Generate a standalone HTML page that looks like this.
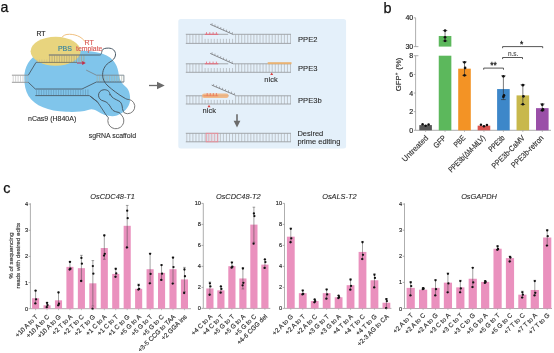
<!DOCTYPE html>
<html><head><meta charset="utf-8"><style>
html,body{margin:0;padding:0;background:#fff;}
body{width:554px;height:353px;overflow:hidden;position:relative;}
svg{position:absolute;left:0;top:0;font-family:'Liberation Sans',sans-serif;filter:blur(0.4px);}
</style></head><body>
<svg width="554" height="353" viewBox="0 0 554 353" style="font-family:'Liberation Sans',sans-serif">
<text x="0.40" y="12.30" text-anchor="start" style="font-size:14.2px;fill:#111;stroke:#111;stroke-width:0.25px;">a</text>
<text x="383.60" y="12.50" text-anchor="start" style="font-size:14.4px;fill:#111;stroke:#111;stroke-width:0.25px;">b</text>
<text x="3.30" y="192.90" text-anchor="start" style="font-size:14.4px;fill:#111;stroke:#111;stroke-width:0.25px;">c</text>
<path d="M24.3,78 C24.3,66 30,58 38,54 C50,49 80,50 92,51.5 C100,52.5 106,54.5 110,57.5 C114.5,61 117.8,66 118.8,74.7 C119.5,80 122,84 126,87 C129.5,90 130.5,96 130,101 C129,108 124,112.5 117,115.5 C112,117 104,116 97,111 C94,109.5 92,108.5 88,110 C82,112 74,112 66,111.8 C48,111 35,106 28.5,96 C25.5,91 24.3,85 24.3,78 Z" fill="#80c5eb" stroke="none" stroke-width="1"/>
<ellipse cx="55.6" cy="51.3" rx="25" ry="14.5" fill="#e8d47e"/>
<path d="M62,37.5 C64,33 74,33.5 80,37 C83,39 85,41 86,43" fill="none" stroke="#f0c080" stroke-width="1.0"/>
<path d="M37.00 59.50V62.20M39.45 59.50V62.20M41.90 59.50V62.20M44.35 59.50V62.20M46.80 59.50V62.20" fill="none" stroke="#c8bb88" stroke-width="0.6"/>
<path d="M49.60 55.40V62.20M52.05 55.40V62.20M54.50 55.40V62.20M56.95 55.40V62.20M59.40 55.40V62.20M61.85 55.40V62.20M64.30 55.40V62.20M66.75 55.40V62.20M69.20 55.40V62.20M71.65 55.40V62.20M74.10 55.40V62.20M76.55 55.40V62.20M79.00 55.40V62.20M81.45 55.40V62.20M83.90 55.40V62.20" fill="none" stroke="#b0a47a" stroke-width="0.7"/>
<path d="M48.9,55 L99.8,55 C100.8,55 101.4,54 101.6,52.5 L102.3,50.1" fill="none" stroke="#4a5a66" stroke-width="0.9"/>
<line x1="48.90" y1="55.00" x2="79.00" y2="55.00" stroke="#a49c82" stroke-width="1.0"/>
<line x1="36.00" y1="62.40" x2="77.00" y2="62.40" stroke="#6a6a60" stroke-width="0.8"/>
<line x1="77.00" y1="63.00" x2="83.00" y2="63.00" stroke="#c0304a" stroke-width="1.0"/>
<path d="M82.2,61.1 L85.8,63.0 L82.2,64.9 Z" fill="#c0304a" stroke="none" stroke-width="1"/>
<path d="M13.20 75.80V81.80M15.65 75.80V81.80M18.10 75.80V81.80M20.55 75.80V81.80M23.00 75.80V81.80M25.45 75.80V81.80M27.90 75.80V81.80" fill="none" stroke="#b8b8b8" stroke-width="0.6"/>
<line x1="11.90" y1="75.20" x2="28.30" y2="75.20" stroke="#8a8a8a" stroke-width="0.85"/>
<line x1="11.90" y1="82.30" x2="28.30" y2="82.30" stroke="#8a8a8a" stroke-width="0.85"/>
<path d="M28.3,75.2 L36,62.4" fill="none" stroke="#4a5a66" stroke-width="0.9"/>
<path d="M28.3,82.3 L35.3,89.0 L82,89.0 L96.4,82 L123.9,82" fill="none" stroke="#4a5a66" stroke-width="0.9"/>
<path d="M36.50 89.40V95.20M38.95 89.40V95.20M41.40 89.40V95.20M43.85 89.40V95.20M46.30 89.40V95.20M48.75 89.40V95.20M51.20 89.40V95.20M53.65 89.40V95.20M56.10 89.40V95.20M58.55 89.40V95.20M61.00 89.40V95.20M63.45 89.40V95.20M65.90 89.40V95.20M68.35 89.40V95.20M70.80 89.40V95.20M73.25 89.40V95.20M75.70 89.40V95.20M78.15 89.40V95.20M80.60 89.40V95.20M83.05 89.40V95.20M85.50 89.40V95.20M87.95 89.40V95.20" fill="none" stroke="#5f8fae" stroke-width="0.6"/>
<path d="M35.3,95.6 L89.3,95.6 L97.6,102 L106.1,115 L108.4,117.8" fill="none" stroke="#4a5a66" stroke-width="0.9"/>
<path d="M97.20 75.60V81.60M99.65 75.60V81.60M102.10 75.60V81.60M104.55 75.60V81.60M107.00 75.60V81.60M109.45 75.60V81.60M111.90 75.60V81.60M114.35 75.60V81.60M116.80 75.60V81.60M119.25 75.60V81.60M121.70 75.60V81.60" fill="none" stroke="#a8b0a0" stroke-width="0.6"/>
<path d="M86.2,70.1 L96.4,75.2 L123.9,75.2 L123.9,82" fill="none" stroke="#7a8890" stroke-width="0.9"/>
<path d="M102.3,50.1 C103,48.8 105,48.1 108.3,48.1 C113,48.1 115.8,51 115.5,55 C115.2,58 113,60.4 110,62 C106,64 102.6,69 102.6,74.7 C102.6,79 104.5,83 108,86 C112,89.5 119,95 124,97.7 C126,99 127.5,99.5 128.8,99.5" fill="none" stroke="#4a5a66" stroke-width="1.0"/>
<path d="M124.3,112.9 C123,111 122.3,109 122.3,107 C122,104 120.5,101.5 118.9,101 C116,99.5 113.5,98.5 112,97 C110.5,95 110,93 110,95.2 C110,91 107,89.7 104.2,89.7 C100.7,89.7 98.5,92.5 98.5,95.2 C98.5,98 100.5,100.3 103,100.8 C106,101.5 108,103 109.9,105.9 C111,108 112.5,110.5 114,111 C116,112 118,112.2 119,112.5 C120,113 120.6,114 121.3,114.9" fill="none" stroke="#4a5a66" stroke-width="1.0"/>
<path d="M90,96 L97.6,102" fill="none" stroke="#4a5a66" stroke-width="1.0"/>
<path d="M128.8,99.4 A7.2,7.2 0 1 1 124.3,112.9" fill="none" stroke="#7a7a7a" stroke-width="1.0"/>
<path d="M121.3,114.9 A8,8 0 1 1 108.4,117.8" fill="none" stroke="#7a7a7a" stroke-width="1.0"/>
<text x="36.40" y="35.80" text-anchor="start" style="font-size:6.8px;fill:#2a2a2a;stroke:#2a2a2a;stroke-width:0.2px;">RT</text>
<text x="57.90" y="50.90" text-anchor="start" style="font-size:7.0px;fill:#3a86a0;stroke:#3a86a0;stroke-width:0.18px;">PBS</text>
<text x="84.60" y="45.40" text-anchor="start" style="font-size:7.0px;fill:#d85a55;stroke:#d85a55;stroke-width:0.15px;">RT</text>
<text x="76.00" y="51.00" text-anchor="start" style="font-size:6.9px;fill:#d85a55;stroke:#d85a55;stroke-width:0.15px;">template</text>
<text x="28.00" y="121.20" text-anchor="start" style="font-size:7.0px;fill:#2a2a2a;stroke:#2a2a2a;stroke-width:0.1px;">nCas9 (H840A)</text>
<text x="88.70" y="138.30" text-anchor="start" style="font-size:6.95px;fill:#2a2a2a;stroke:#2a2a2a;stroke-width:0.1px;">sgRNA scaffold</text>
<line x1="149.00" y1="85.50" x2="158.00" y2="85.50" stroke="#6b6b6b" stroke-width="1.3"/>
<path d="M157,81.7 L164.7,85.5 L157,89.2 Z" fill="#6b6b6b" stroke="none" stroke-width="1"/>
<rect x="178.3" y="19" width="167.8" height="129.6" rx="2.5" fill="#e4f0fa"/>
<path d="M186.80 34.30V43.40M189.85 34.30V43.40M192.90 34.30V43.40M195.95 34.30V43.40M199.00 34.30V43.40M202.05 34.30V43.40M205.10 38.85V43.40M208.15 38.85V43.40M211.20 38.85V43.40M214.25 38.85V43.40M217.30 38.85V43.40M220.35 38.85V43.40M223.40 38.85V43.40M226.45 38.85V43.40M229.50 38.85V43.40M232.55 38.85V43.40M235.60 34.30V43.40M238.65 34.30V43.40M241.70 34.30V43.40M244.75 34.30V43.40M247.80 34.30V43.40M250.85 34.30V43.40M253.90 34.30V43.40M256.95 34.30V43.40M260.00 34.30V43.40M263.05 34.30V43.40M266.10 34.30V43.40M269.15 34.30V43.40M272.20 34.30V43.40M275.25 34.30V43.40M278.30 34.30V43.40M281.35 34.30V43.40M284.40 34.30V43.40M287.45 34.30V43.40M290.50 34.30V43.40" fill="none" stroke="#b2b6ba" stroke-width="0.75"/>
<line x1="185.80" y1="43.40" x2="291.00" y2="43.40" stroke="#9ea2a6" stroke-width="0.95"/>
<line x1="185.80" y1="34.30" x2="228.20" y2="34.30" stroke="#9ea2a6" stroke-width="0.95"/>
<line x1="233.40" y1="34.30" x2="291.00" y2="34.30" stroke="#9ea2a6" stroke-width="0.95"/>
<line x1="204.80" y1="34.30" x2="218.30" y2="34.30" stroke="#e86878" stroke-width="1.0"/>
<line x1="206.50" y1="32.10" x2="206.50" y2="34.30" stroke="#e86878" stroke-width="0.8"/>
<line x1="209.80" y1="32.10" x2="209.80" y2="34.30" stroke="#e86878" stroke-width="0.8"/>
<line x1="213.10" y1="32.10" x2="213.10" y2="34.30" stroke="#e86878" stroke-width="0.8"/>
<line x1="216.40" y1="32.10" x2="216.40" y2="34.30" stroke="#e86878" stroke-width="0.8"/>
<line x1="210.20" y1="24.30" x2="233.40" y2="34.60" stroke="#7a7d80" stroke-width="0.9"/>
<path d="M211.94 25.07L212.14 23.17M214.84 26.36L215.04 24.46M217.74 27.65L217.94 25.75M220.64 28.94L220.84 27.04M223.54 30.22L223.74 28.32M226.44 31.51L226.64 29.61M229.34 32.80L229.54 30.90M232.24 34.09L232.44 32.19" fill="none" stroke="#8a8d90" stroke-width="0.7"/>
<path d="M186.80 63.80V72.30M189.85 63.80V72.30M192.90 63.80V72.30M195.95 63.80V72.30M199.00 63.80V72.30M202.05 63.80V72.30M205.10 68.05V72.30M208.15 68.05V72.30M211.20 68.05V72.30M214.25 68.05V72.30M217.30 68.05V72.30M220.35 68.05V72.30M223.40 68.05V72.30M226.45 68.05V72.30M229.50 68.05V72.30M232.55 68.05V72.30M235.60 63.80V72.30M238.65 63.80V72.30M241.70 63.80V72.30M244.75 63.80V72.30M247.80 63.80V72.30M250.85 63.80V72.30M253.90 63.80V72.30M256.95 63.80V72.30M260.00 63.80V72.30M263.05 63.80V72.30M266.10 63.80V72.30M269.15 63.80V72.30M272.20 63.80V72.30M275.25 63.80V72.30M278.30 63.80V72.30M281.35 63.80V72.30M284.40 63.80V72.30M287.45 63.80V72.30M290.50 63.80V72.30" fill="none" stroke="#b2b6ba" stroke-width="0.75"/>
<line x1="185.80" y1="72.30" x2="291.00" y2="72.30" stroke="#9ea2a6" stroke-width="0.95"/>
<line x1="185.80" y1="63.80" x2="228.20" y2="63.80" stroke="#9ea2a6" stroke-width="0.95"/>
<line x1="233.20" y1="63.80" x2="291.00" y2="63.80" stroke="#9ea2a6" stroke-width="0.95"/>
<line x1="204.80" y1="63.80" x2="218.30" y2="63.80" stroke="#e86878" stroke-width="1.0"/>
<line x1="206.50" y1="61.60" x2="206.50" y2="63.80" stroke="#e86878" stroke-width="0.8"/>
<line x1="209.80" y1="61.60" x2="209.80" y2="63.80" stroke="#e86878" stroke-width="0.8"/>
<line x1="213.10" y1="61.60" x2="213.10" y2="63.80" stroke="#e86878" stroke-width="0.8"/>
<line x1="216.40" y1="61.60" x2="216.40" y2="63.80" stroke="#e86878" stroke-width="0.8"/>
<line x1="210.20" y1="53.40" x2="233.20" y2="63.80" stroke="#7a7d80" stroke-width="0.9"/>
<path d="M211.92 54.18L212.12 52.28M214.80 55.48L215.00 53.58M217.67 56.78L217.87 54.88M220.55 58.08L220.75 56.18M223.42 59.38L223.62 57.48M226.30 60.68L226.50 58.78M229.17 61.98L229.37 60.08M232.05 63.28L232.25 61.38" fill="none" stroke="#8a8d90" stroke-width="0.7"/>
<line x1="267.70" y1="63.20" x2="291.50" y2="63.20" stroke="#e9b272" stroke-width="2.0"/>
<path d="M270.2,75.1 L271.7,72.5 L273.2,75.1 Z" fill="#d84040" stroke="none" stroke-width="1"/>
<text x="264.30" y="82.30" text-anchor="start" style="font-size:7.5px;fill:#2a2a2a;stroke:#2a2a2a;stroke-width:0.08px;">nick</text>
<path d="M186.80 95.80V104.00M189.85 95.80V104.00M192.90 95.80V104.00M195.95 95.80V104.00M199.00 95.80V104.00M202.05 95.80V104.00M205.10 99.90V104.00M208.15 99.90V104.00M211.20 99.90V104.00M214.25 99.90V104.00M217.30 99.90V104.00M220.35 99.90V104.00M223.40 99.90V104.00M226.45 99.90V104.00M229.50 99.90V104.00M232.55 99.90V104.00M235.60 95.80V104.00M238.65 95.80V104.00M241.70 95.80V104.00M244.75 95.80V104.00M247.80 95.80V104.00M250.85 95.80V104.00M253.90 95.80V104.00M256.95 95.80V104.00M260.00 95.80V104.00M263.05 95.80V104.00M266.10 95.80V104.00M269.15 95.80V104.00M272.20 95.80V104.00M275.25 95.80V104.00M278.30 95.80V104.00M281.35 95.80V104.00M284.40 95.80V104.00M287.45 95.80V104.00M290.50 95.80V104.00" fill="none" stroke="#b2b6ba" stroke-width="0.75"/>
<line x1="185.80" y1="104.00" x2="291.00" y2="104.00" stroke="#9ea2a6" stroke-width="0.95"/>
<line x1="185.80" y1="95.80" x2="228.60" y2="95.80" stroke="#9ea2a6" stroke-width="0.95"/>
<line x1="235.50" y1="95.80" x2="291.00" y2="95.80" stroke="#9ea2a6" stroke-width="0.95"/>
<defs><filter id="bl" x="-20%" y="-80%" width="140%" height="260%"><feGaussianBlur stdDeviation="0.7"/></filter></defs>
<rect x="202" y="93.4" width="26.6" height="4.6" rx="2.3" fill="#f3b27a" opacity="0.85" filter="url(#bl)"/>
<line x1="203.50" y1="95.80" x2="218.20" y2="95.80" stroke="#ee8a60" stroke-width="1.0"/>
<line x1="207.20" y1="93.00" x2="207.20" y2="95.80" stroke="#e8705a" stroke-width="0.8"/>
<line x1="210.27" y1="93.00" x2="210.27" y2="95.80" stroke="#e8705a" stroke-width="0.8"/>
<line x1="213.34" y1="93.00" x2="213.34" y2="95.80" stroke="#e8705a" stroke-width="0.8"/>
<line x1="216.41" y1="93.00" x2="216.41" y2="95.80" stroke="#e8705a" stroke-width="0.8"/>
<line x1="211.70" y1="85.10" x2="235.50" y2="95.30" stroke="#7a7d80" stroke-width="0.9"/>
<path d="M213.48 85.86L213.68 83.96M216.46 87.14L216.66 85.24M219.44 88.41L219.63 86.51M222.41 89.69L222.61 87.79M225.38 90.96L225.58 89.06M228.36 92.24L228.56 90.34M231.34 93.52L231.53 91.61M234.31 94.79L234.51 92.89" fill="none" stroke="#8a8d90" stroke-width="0.7"/>
<path d="M207.5,107.3 L209.0,104.7 L210.5,107.3 Z" fill="#d84040" stroke="none" stroke-width="1"/>
<text x="202.60" y="113.40" text-anchor="start" style="font-size:7.5px;fill:#2a2a2a;stroke:#2a2a2a;stroke-width:0.08px;">nick</text>
<line x1="237.00" y1="114.20" x2="237.00" y2="121.50" stroke="#6b6b6b" stroke-width="1.6"/>
<path d="M233.6,120.7 L240.4,120.7 L237,127.5 Z" fill="#6b6b6b" stroke="none" stroke-width="1"/>
<path d="M186.80 133.30V141.80M189.85 133.30V141.80M192.90 133.30V141.80M195.95 133.30V141.80M199.00 133.30V141.80M202.05 133.30V141.80M205.10 133.30V141.80M208.15 133.30V141.80M211.20 133.30V141.80M214.25 133.30V141.80M217.30 133.30V141.80M220.35 133.30V141.80M223.40 133.30V141.80M226.45 133.30V141.80M229.50 133.30V141.80M232.55 133.30V141.80M235.60 133.30V141.80M238.65 133.30V141.80M241.70 133.30V141.80M244.75 133.30V141.80M247.80 133.30V141.80M250.85 133.30V141.80M253.90 133.30V141.80M256.95 133.30V141.80M260.00 133.30V141.80M263.05 133.30V141.80M266.10 133.30V141.80M269.15 133.30V141.80M272.20 133.30V141.80M275.25 133.30V141.80M278.30 133.30V141.80M281.35 133.30V141.80M284.40 133.30V141.80M287.45 133.30V141.80M290.50 133.30V141.80" fill="none" stroke="#b2b6ba" stroke-width="0.75"/>
<line x1="185.80" y1="141.80" x2="291.00" y2="141.80" stroke="#9ea2a6" stroke-width="0.95"/>
<line x1="185.80" y1="133.30" x2="291.00" y2="133.30" stroke="#9ea2a6" stroke-width="0.95"/>
<rect x="206.2" y="133.3" width="11.6" height="8.5" fill="none" stroke="#ee8a98" stroke-width="0.9"/>
<path d="M209.10 133.3V141.8M212.00 133.3V141.8M214.90 133.3V141.8" fill="none" stroke="#eea0aa" stroke-width="0.7"/>
<text x="298.00" y="42.00" text-anchor="start" style="font-size:7.6px;fill:#2a2a2a;stroke:#2a2a2a;stroke-width:0.08px;">PPE2</text>
<text x="298.00" y="71.00" text-anchor="start" style="font-size:7.6px;fill:#2a2a2a;stroke:#2a2a2a;stroke-width:0.08px;">PPE3</text>
<text x="298.00" y="102.90" text-anchor="start" style="font-size:7.6px;fill:#2a2a2a;stroke:#2a2a2a;stroke-width:0.08px;">PPE3b</text>
<text x="297.40" y="135.50" text-anchor="start" style="font-size:7.5px;fill:#2a2a2a;stroke:#2a2a2a;stroke-width:0.08px;">Desired</text>
<text x="297.40" y="144.40" text-anchor="start" style="font-size:7.5px;fill:#2a2a2a;stroke:#2a2a2a;stroke-width:0.08px;">prime editing</text>
<line x1="415.60" y1="17.80" x2="415.60" y2="46.60" stroke="#999" stroke-width="0.8"/>
<line x1="415.60" y1="55.70" x2="415.60" y2="130.30" stroke="#999" stroke-width="0.8"/>
<line x1="415.60" y1="130.30" x2="551.00" y2="130.30" stroke="#999" stroke-width="0.8"/>
<line x1="413.80" y1="17.80" x2="415.60" y2="17.80" stroke="#999" stroke-width="0.8"/>
<line x1="413.80" y1="46.60" x2="418.40" y2="46.60" stroke="#999" stroke-width="0.8"/>
<line x1="413.80" y1="55.70" x2="418.40" y2="55.70" stroke="#999" stroke-width="0.8"/>
<line x1="413.80" y1="130.30" x2="415.60" y2="130.30" stroke="#999" stroke-width="0.8"/>
<line x1="413.80" y1="111.68" x2="415.60" y2="111.68" stroke="#999" stroke-width="0.8"/>
<line x1="413.80" y1="93.06" x2="415.60" y2="93.06" stroke="#999" stroke-width="0.8"/>
<line x1="413.80" y1="74.44" x2="415.60" y2="74.44" stroke="#999" stroke-width="0.8"/>
<text x="413.20" y="20.40" text-anchor="end" style="font-size:7.0px;fill:#222;stroke:#222;stroke-width:0.16px;">40</text>
<text x="413.20" y="49.20" text-anchor="end" style="font-size:7.0px;fill:#222;stroke:#222;stroke-width:0.16px;">30</text>
<text x="413.20" y="58.30" text-anchor="end" style="font-size:7.0px;fill:#222;stroke:#222;stroke-width:0.16px;">8</text>
<text x="413.20" y="77.04" text-anchor="end" style="font-size:7.0px;fill:#222;stroke:#222;stroke-width:0.16px;">6</text>
<text x="413.20" y="95.66" text-anchor="end" style="font-size:7.0px;fill:#222;stroke:#222;stroke-width:0.16px;">4</text>
<text x="413.20" y="114.28" text-anchor="end" style="font-size:7.0px;fill:#222;stroke:#222;stroke-width:0.16px;">2</text>
<text x="413.20" y="132.90" text-anchor="end" style="font-size:7.0px;fill:#222;stroke:#222;stroke-width:0.16px;">0</text>
<text x="400.90" y="74.40" text-anchor="middle" style="font-size:7.8px;fill:#222;stroke:#222;stroke-width:0.12px;" transform="rotate(-90 400.9 74.4)">GFP<tspan dy="-2.6" font-size="4.6">+</tspan><tspan dy="2.6" dx="0.6"> (%)</tspan></text>
<rect x="419.30" y="125.09" width="12.60" height="5.21" fill="#585858"/>
<circle cx="422.60" cy="124.19" r="1.25" fill="#111"/>
<circle cx="425.60" cy="125.79" r="1.25" fill="#111"/>
<circle cx="428.60" cy="124.39" r="1.25" fill="#111"/>
<line x1="425.60" y1="130.30" x2="425.60" y2="131.90" stroke="#999" stroke-width="0.7"/>
<text x="428.80" y="138.50" text-anchor="end" style="font-size:7.9px;fill:#333;stroke:#333;stroke-width:0.16px;" transform="rotate(-45 428.8 138.5)" textLength="33.6" lengthAdjust="spacingAndGlyphs">Untreated</text>
<rect x="438.75" y="55.70" width="12.60" height="74.60" fill="#5cb85c"/>
<rect x="438.75" y="35.98" width="12.60" height="10.62" fill="#5cb85c"/>
<line x1="445.05" y1="30.60" x2="445.05" y2="41.00" stroke="#333" stroke-width="0.65"/>
<line x1="442.75" y1="30.60" x2="447.35" y2="30.60" stroke="#333" stroke-width="0.65"/>
<line x1="442.75" y1="41.00" x2="447.35" y2="41.00" stroke="#333" stroke-width="0.65"/>
<circle cx="445.05" cy="30.60" r="1.35" fill="#111"/>
<circle cx="445.05" cy="37.30" r="1.35" fill="#111"/>
<circle cx="445.05" cy="40.80" r="1.35" fill="#111"/>
<line x1="445.05" y1="130.30" x2="445.05" y2="131.90" stroke="#999" stroke-width="0.7"/>
<text x="446.65" y="138.50" text-anchor="end" style="font-size:7.9px;fill:#333;stroke:#333;stroke-width:0.16px;" transform="rotate(-45 446.65000000000003 138.5)" textLength="14.4" lengthAdjust="spacingAndGlyphs">GFP</text>
<rect x="458.20" y="68.67" width="12.60" height="61.63" fill="#f39325"/>
<line x1="464.50" y1="61.87" x2="464.50" y2="75.37" stroke="#333" stroke-width="0.65"/>
<line x1="462.20" y1="61.87" x2="466.80" y2="61.87" stroke="#333" stroke-width="0.65"/>
<line x1="462.20" y1="75.37" x2="466.80" y2="75.37" stroke="#333" stroke-width="0.65"/>
<circle cx="464.50" cy="62.34" r="1.35" fill="#111"/>
<circle cx="465.10" cy="67.92" r="1.35" fill="#111"/>
<circle cx="464.50" cy="75.37" r="1.35" fill="#111"/>
<line x1="464.50" y1="130.30" x2="464.50" y2="131.90" stroke="#999" stroke-width="0.7"/>
<text x="465.90" y="138.50" text-anchor="end" style="font-size:7.9px;fill:#333;stroke:#333;stroke-width:0.16px;" transform="rotate(-45 465.9 138.5)" textLength="13.1" lengthAdjust="spacingAndGlyphs">PBE</text>
<rect x="477.65" y="125.65" width="12.60" height="4.66" fill="#d9534f"/>
<circle cx="480.95" cy="124.75" r="1.25" fill="#111"/>
<circle cx="483.95" cy="126.35" r="1.25" fill="#111"/>
<circle cx="486.95" cy="124.95" r="1.25" fill="#111"/>
<line x1="483.95" y1="130.30" x2="483.95" y2="131.90" stroke="#999" stroke-width="0.7"/>
<text x="485.80" y="138.50" text-anchor="end" style="font-size:7.9px;fill:#333;stroke:#333;stroke-width:0.16px;" transform="rotate(-45 485.8 138.5)" textLength="48.6" lengthAdjust="spacingAndGlyphs">PPE3b(ΔM-MLV)</text>
<rect x="497.10" y="89.06" width="12.60" height="41.24" fill="#3d87c9"/>
<line x1="503.40" y1="75.84" x2="503.40" y2="99.58" stroke="#333" stroke-width="0.65"/>
<line x1="501.10" y1="75.84" x2="505.70" y2="75.84" stroke="#333" stroke-width="0.65"/>
<line x1="501.10" y1="99.58" x2="505.70" y2="99.58" stroke="#333" stroke-width="0.65"/>
<circle cx="503.40" cy="76.30" r="1.35" fill="#111"/>
<circle cx="504.00" cy="95.39" r="1.35" fill="#111"/>
<circle cx="503.40" cy="96.78" r="1.35" fill="#111"/>
<line x1="503.40" y1="130.30" x2="503.40" y2="131.90" stroke="#999" stroke-width="0.7"/>
<text x="505.30" y="138.50" text-anchor="end" style="font-size:7.9px;fill:#333;stroke:#333;stroke-width:0.16px;" transform="rotate(-45 505.3 138.5)" textLength="19.4" lengthAdjust="spacingAndGlyphs">PPE3b</text>
<rect x="516.55" y="95.39" width="12.60" height="34.91" fill="#c8b84c"/>
<line x1="522.85" y1="84.68" x2="522.85" y2="104.51" stroke="#333" stroke-width="0.65"/>
<line x1="520.55" y1="84.68" x2="525.15" y2="84.68" stroke="#333" stroke-width="0.65"/>
<line x1="520.55" y1="104.51" x2="525.15" y2="104.51" stroke="#333" stroke-width="0.65"/>
<circle cx="522.85" cy="85.15" r="1.35" fill="#111"/>
<circle cx="523.45" cy="96.32" r="1.35" fill="#111"/>
<circle cx="522.85" cy="104.23" r="1.35" fill="#111"/>
<line x1="522.85" y1="130.30" x2="522.85" y2="131.90" stroke="#999" stroke-width="0.7"/>
<text x="525.40" y="138.50" text-anchor="end" style="font-size:7.9px;fill:#333;stroke:#333;stroke-width:0.16px;" transform="rotate(-45 525.3999999999999 138.5)" textLength="43.2" lengthAdjust="spacingAndGlyphs">PPE3b-CaMV</text>
<rect x="536.00" y="108.14" width="12.60" height="22.16" fill="#9a4fa8"/>
<line x1="542.30" y1="103.95" x2="542.30" y2="110.75" stroke="#333" stroke-width="0.65"/>
<line x1="540.00" y1="103.95" x2="544.60" y2="103.95" stroke="#333" stroke-width="0.65"/>
<line x1="540.00" y1="110.75" x2="544.60" y2="110.75" stroke="#333" stroke-width="0.65"/>
<circle cx="542.30" cy="104.70" r="1.35" fill="#111"/>
<circle cx="542.90" cy="109.35" r="1.35" fill="#111"/>
<circle cx="542.30" cy="110.28" r="1.35" fill="#111"/>
<line x1="542.30" y1="130.30" x2="542.30" y2="131.90" stroke="#999" stroke-width="0.7"/>
<text x="544.10" y="138.50" text-anchor="end" style="font-size:7.9px;fill:#333;stroke:#333;stroke-width:0.16px;" transform="rotate(-45 544.0999999999999 138.5)" textLength="42.1" lengthAdjust="spacingAndGlyphs">PPE3b-retron</text>
<path d="M483.7,69.69999999999999 V68.1 H503.5 V69.69999999999999" fill="none" stroke="#444" stroke-width="0.9"/>
<path d="M502.6,59.1 V57.5 H522.5 V59.1" fill="none" stroke="#444" stroke-width="0.9"/>
<path d="M502.6,48.2 V46.6 H542.7 V48.2" fill="none" stroke="#444" stroke-width="0.9"/>
<text x="493.60" y="67.60" text-anchor="middle" style="font-size:8.4px;fill:#222;stroke:#222;stroke-width:0.3px;">**</text>
<text x="513.20" y="55.60" text-anchor="middle" style="font-size:6.4px;fill:#555;stroke:#555;stroke-width:0.16px;">n.s.</text>
<text x="521.60" y="46.60" text-anchor="middle" style="font-size:8.4px;fill:#222;stroke:#222;stroke-width:0.3px;">*</text>
<line x1="30.40" y1="203.30" x2="30.40" y2="308.70" stroke="#999" stroke-width="0.8"/>
<line x1="30.40" y1="308.70" x2="191.00" y2="308.70" stroke="#999" stroke-width="0.8"/>
<line x1="28.60" y1="308.70" x2="30.40" y2="308.70" stroke="#999" stroke-width="0.8"/>
<text x="28.00" y="310.70" text-anchor="end" style="font-size:5.6px;fill:#222;stroke:#222;stroke-width:0.14px;">0</text>
<line x1="28.60" y1="282.55" x2="30.40" y2="282.55" stroke="#999" stroke-width="0.8"/>
<text x="28.00" y="284.55" text-anchor="end" style="font-size:5.6px;fill:#222;stroke:#222;stroke-width:0.14px;">1</text>
<line x1="28.60" y1="256.40" x2="30.40" y2="256.40" stroke="#999" stroke-width="0.8"/>
<text x="28.00" y="258.40" text-anchor="end" style="font-size:5.6px;fill:#222;stroke:#222;stroke-width:0.14px;">2</text>
<line x1="28.60" y1="230.25" x2="30.40" y2="230.25" stroke="#999" stroke-width="0.8"/>
<text x="28.00" y="232.25" text-anchor="end" style="font-size:5.6px;fill:#222;stroke:#222;stroke-width:0.14px;">3</text>
<line x1="28.60" y1="204.10" x2="30.40" y2="204.10" stroke="#999" stroke-width="0.8"/>
<text x="28.00" y="206.10" text-anchor="end" style="font-size:5.6px;fill:#222;stroke:#222;stroke-width:0.14px;">4</text>
<rect x="32.05" y="298.24" width="7.10" height="10.46" fill="#ea91be"/>
<line x1="35.60" y1="290.66" x2="35.60" y2="303.47" stroke="#444" stroke-width="0.5"/>
<line x1="34.30" y1="290.66" x2="36.90" y2="290.66" stroke="#444" stroke-width="0.5"/>
<line x1="34.30" y1="303.47" x2="36.90" y2="303.47" stroke="#444" stroke-width="0.5"/>
<circle cx="35.60" cy="290.66" r="1.15" fill="#111"/>
<circle cx="36.10" cy="299.29" r="1.15" fill="#111"/>
<circle cx="35.30" cy="303.47" r="1.15" fill="#111"/>
<line x1="35.60" y1="308.70" x2="35.60" y2="310.20" stroke="#999" stroke-width="0.6"/>
<text x="38.40" y="317.20" text-anchor="end" style="font-size:6.45px;fill:#333;stroke:#333;stroke-width:0.16px;" transform="rotate(-45 38.4 317.2)">+10 A to T</text>
<rect x="43.50" y="305.30" width="7.10" height="3.40" fill="#ea91be"/>
<line x1="47.05" y1="302.42" x2="47.05" y2="307.13" stroke="#444" stroke-width="0.5"/>
<line x1="45.75" y1="302.42" x2="48.35" y2="302.42" stroke="#444" stroke-width="0.5"/>
<line x1="45.75" y1="307.13" x2="48.35" y2="307.13" stroke="#444" stroke-width="0.5"/>
<circle cx="47.05" cy="302.95" r="1.15" fill="#111"/>
<circle cx="47.55" cy="305.04" r="1.15" fill="#111"/>
<circle cx="46.75" cy="307.13" r="1.15" fill="#111"/>
<line x1="47.05" y1="308.70" x2="47.05" y2="310.20" stroke="#999" stroke-width="0.6"/>
<text x="49.85" y="317.20" text-anchor="end" style="font-size:6.45px;fill:#333;stroke:#333;stroke-width:0.16px;" transform="rotate(-45 49.849999999999994 317.2)">+10 A to C</text>
<rect x="54.95" y="300.33" width="7.10" height="8.37" fill="#ea91be"/>
<line x1="58.50" y1="292.23" x2="58.50" y2="305.30" stroke="#444" stroke-width="0.5"/>
<line x1="57.20" y1="292.23" x2="59.80" y2="292.23" stroke="#444" stroke-width="0.5"/>
<line x1="57.20" y1="305.30" x2="59.80" y2="305.30" stroke="#444" stroke-width="0.5"/>
<circle cx="58.50" cy="292.49" r="1.15" fill="#111"/>
<circle cx="59.00" cy="303.73" r="1.15" fill="#111"/>
<circle cx="58.20" cy="305.30" r="1.15" fill="#111"/>
<line x1="58.50" y1="308.70" x2="58.50" y2="310.20" stroke="#999" stroke-width="0.6"/>
<text x="61.30" y="317.20" text-anchor="end" style="font-size:6.45px;fill:#333;stroke:#333;stroke-width:0.16px;" transform="rotate(-45 61.3 317.2)">+10 A to G</text>
<rect x="66.40" y="266.86" width="7.10" height="41.84" fill="#ea91be"/>
<line x1="69.95" y1="261.63" x2="69.95" y2="269.48" stroke="#444" stroke-width="0.5"/>
<line x1="68.65" y1="261.63" x2="71.25" y2="261.63" stroke="#444" stroke-width="0.5"/>
<line x1="68.65" y1="269.48" x2="71.25" y2="269.48" stroke="#444" stroke-width="0.5"/>
<circle cx="69.95" cy="261.89" r="1.15" fill="#111"/>
<circle cx="70.45" cy="268.69" r="1.15" fill="#111"/>
<circle cx="69.65" cy="269.48" r="1.15" fill="#111"/>
<line x1="69.95" y1="308.70" x2="69.95" y2="310.20" stroke="#999" stroke-width="0.6"/>
<text x="72.75" y="317.20" text-anchor="end" style="font-size:6.45px;fill:#333;stroke:#333;stroke-width:0.16px;" transform="rotate(-45 72.74999999999999 317.2)">+2 T to A</text>
<rect x="77.85" y="268.17" width="7.10" height="40.53" fill="#ea91be"/>
<line x1="81.40" y1="255.35" x2="81.40" y2="280.98" stroke="#444" stroke-width="0.5"/>
<line x1="80.10" y1="255.35" x2="82.70" y2="255.35" stroke="#444" stroke-width="0.5"/>
<line x1="80.10" y1="280.98" x2="82.70" y2="280.98" stroke="#444" stroke-width="0.5"/>
<circle cx="81.40" cy="257.97" r="1.15" fill="#111"/>
<circle cx="81.90" cy="263.72" r="1.15" fill="#111"/>
<circle cx="81.10" cy="280.98" r="1.15" fill="#111"/>
<line x1="81.40" y1="308.70" x2="81.40" y2="310.20" stroke="#999" stroke-width="0.6"/>
<text x="84.20" y="317.20" text-anchor="end" style="font-size:6.45px;fill:#333;stroke:#333;stroke-width:0.16px;" transform="rotate(-45 84.2 317.2)">+2 T to C</text>
<rect x="89.30" y="283.33" width="7.10" height="25.37" fill="#ea91be"/>
<line x1="92.85" y1="260.58" x2="92.85" y2="306.08" stroke="#444" stroke-width="0.5"/>
<line x1="91.55" y1="260.58" x2="94.15" y2="260.58" stroke="#444" stroke-width="0.5"/>
<line x1="91.55" y1="306.08" x2="94.15" y2="306.08" stroke="#444" stroke-width="0.5"/>
<circle cx="92.85" cy="266.08" r="1.15" fill="#111"/>
<circle cx="93.35" cy="273.66" r="1.15" fill="#111"/>
<circle cx="92.55" cy="308.70" r="1.15" fill="#111"/>
<line x1="92.85" y1="308.70" x2="92.85" y2="310.20" stroke="#999" stroke-width="0.6"/>
<text x="95.65" y="317.20" text-anchor="end" style="font-size:6.45px;fill:#333;stroke:#333;stroke-width:0.16px;" transform="rotate(-45 95.64999999999999 317.2)">+2 T to G</text>
<rect x="100.75" y="248.03" width="7.10" height="60.67" fill="#ea91be"/>
<line x1="104.30" y1="234.96" x2="104.30" y2="259.28" stroke="#444" stroke-width="0.5"/>
<line x1="103.00" y1="234.96" x2="105.60" y2="234.96" stroke="#444" stroke-width="0.5"/>
<line x1="103.00" y1="259.28" x2="105.60" y2="259.28" stroke="#444" stroke-width="0.5"/>
<circle cx="104.30" cy="235.48" r="1.15" fill="#111"/>
<circle cx="104.80" cy="253.78" r="1.15" fill="#111"/>
<circle cx="104.00" cy="255.62" r="1.15" fill="#111"/>
<line x1="104.30" y1="308.70" x2="104.30" y2="310.20" stroke="#999" stroke-width="0.6"/>
<text x="107.10" y="317.20" text-anchor="end" style="font-size:6.45px;fill:#333;stroke:#333;stroke-width:0.16px;" transform="rotate(-45 107.09999999999998 317.2)">+1 C to A</text>
<rect x="112.20" y="273.92" width="7.10" height="34.78" fill="#ea91be"/>
<line x1="115.75" y1="268.17" x2="115.75" y2="276.80" stroke="#444" stroke-width="0.5"/>
<line x1="114.45" y1="268.17" x2="117.05" y2="268.17" stroke="#444" stroke-width="0.5"/>
<line x1="114.45" y1="276.80" x2="117.05" y2="276.80" stroke="#444" stroke-width="0.5"/>
<circle cx="115.75" cy="268.95" r="1.15" fill="#111"/>
<circle cx="116.25" cy="273.40" r="1.15" fill="#111"/>
<circle cx="115.45" cy="276.80" r="1.15" fill="#111"/>
<line x1="115.75" y1="308.70" x2="115.75" y2="310.20" stroke="#999" stroke-width="0.6"/>
<text x="118.55" y="317.20" text-anchor="end" style="font-size:6.45px;fill:#333;stroke:#333;stroke-width:0.16px;" transform="rotate(-45 118.55 317.2)">+1 C to T</text>
<rect x="123.65" y="225.80" width="7.10" height="82.90" fill="#ea91be"/>
<line x1="127.20" y1="205.41" x2="127.20" y2="247.51" stroke="#444" stroke-width="0.5"/>
<line x1="125.90" y1="205.41" x2="128.50" y2="205.41" stroke="#444" stroke-width="0.5"/>
<line x1="125.90" y1="247.51" x2="128.50" y2="247.51" stroke="#444" stroke-width="0.5"/>
<circle cx="127.20" cy="210.64" r="1.15" fill="#111"/>
<circle cx="127.70" cy="218.22" r="1.15" fill="#111"/>
<circle cx="126.90" cy="247.51" r="1.15" fill="#111"/>
<line x1="127.20" y1="308.70" x2="127.20" y2="310.20" stroke="#999" stroke-width="0.6"/>
<text x="130.00" y="317.20" text-anchor="end" style="font-size:6.45px;fill:#333;stroke:#333;stroke-width:0.16px;" transform="rotate(-45 130.0 317.2)">+1 C to G</text>
<rect x="135.10" y="288.83" width="7.10" height="19.87" fill="#ea91be"/>
<line x1="138.65" y1="284.12" x2="138.65" y2="289.61" stroke="#444" stroke-width="0.5"/>
<line x1="137.35" y1="284.12" x2="139.95" y2="284.12" stroke="#444" stroke-width="0.5"/>
<line x1="137.35" y1="289.61" x2="139.95" y2="289.61" stroke="#444" stroke-width="0.5"/>
<circle cx="138.65" cy="285.16" r="1.15" fill="#111"/>
<circle cx="139.15" cy="288.83" r="1.15" fill="#111"/>
<circle cx="138.35" cy="289.61" r="1.15" fill="#111"/>
<line x1="138.65" y1="308.70" x2="138.65" y2="310.20" stroke="#999" stroke-width="0.6"/>
<text x="141.45" y="317.20" text-anchor="end" style="font-size:6.45px;fill:#333;stroke:#333;stroke-width:0.16px;" transform="rotate(-45 141.45000000000002 317.2)">+5 G to A</text>
<rect x="146.55" y="269.21" width="7.10" height="39.49" fill="#ea91be"/>
<line x1="150.10" y1="253.26" x2="150.10" y2="283.33" stroke="#444" stroke-width="0.5"/>
<line x1="148.80" y1="253.26" x2="151.40" y2="253.26" stroke="#444" stroke-width="0.5"/>
<line x1="148.80" y1="283.33" x2="151.40" y2="283.33" stroke="#444" stroke-width="0.5"/>
<circle cx="150.10" cy="253.78" r="1.15" fill="#111"/>
<circle cx="150.60" cy="273.92" r="1.15" fill="#111"/>
<circle cx="149.80" cy="283.33" r="1.15" fill="#111"/>
<line x1="150.10" y1="308.70" x2="150.10" y2="310.20" stroke="#999" stroke-width="0.6"/>
<text x="152.90" y="317.20" text-anchor="end" style="font-size:6.45px;fill:#333;stroke:#333;stroke-width:0.16px;" transform="rotate(-45 152.9 317.2)">+5 G to T</text>
<rect x="158.00" y="272.87" width="7.10" height="35.83" fill="#ea91be"/>
<line x1="161.55" y1="265.03" x2="161.55" y2="279.94" stroke="#444" stroke-width="0.5"/>
<line x1="160.25" y1="265.03" x2="162.85" y2="265.03" stroke="#444" stroke-width="0.5"/>
<line x1="160.25" y1="279.94" x2="162.85" y2="279.94" stroke="#444" stroke-width="0.5"/>
<circle cx="161.55" cy="265.03" r="1.15" fill="#111"/>
<circle cx="162.05" cy="273.66" r="1.15" fill="#111"/>
<circle cx="161.25" cy="279.94" r="1.15" fill="#111"/>
<line x1="161.55" y1="308.70" x2="161.55" y2="310.20" stroke="#999" stroke-width="0.6"/>
<text x="164.35" y="317.20" text-anchor="end" style="font-size:6.45px;fill:#333;stroke:#333;stroke-width:0.16px;" transform="rotate(-45 164.35 317.2)">+5 G to C</text>
<rect x="169.45" y="269.21" width="7.10" height="39.49" fill="#ea91be"/>
<line x1="173.00" y1="257.18" x2="173.00" y2="283.60" stroke="#444" stroke-width="0.5"/>
<line x1="171.70" y1="257.18" x2="174.30" y2="257.18" stroke="#444" stroke-width="0.5"/>
<line x1="171.70" y1="283.60" x2="174.30" y2="283.60" stroke="#444" stroke-width="0.5"/>
<circle cx="173.00" cy="257.71" r="1.15" fill="#111"/>
<circle cx="173.50" cy="267.12" r="1.15" fill="#111"/>
<circle cx="172.70" cy="283.60" r="1.15" fill="#111"/>
<line x1="173.00" y1="308.70" x2="173.00" y2="310.20" stroke="#999" stroke-width="0.6"/>
<text x="175.80" y="317.20" text-anchor="end" style="font-size:6.45px;fill:#333;stroke:#333;stroke-width:0.16px;" transform="rotate(-45 175.79999999999998 317.2)">+3-5 CCG to TAA</text>
<rect x="180.90" y="279.41" width="7.10" height="29.29" fill="#ea91be"/>
<line x1="184.45" y1="267.38" x2="184.45" y2="291.70" stroke="#444" stroke-width="0.5"/>
<line x1="183.15" y1="267.38" x2="185.75" y2="267.38" stroke="#444" stroke-width="0.5"/>
<line x1="183.15" y1="291.70" x2="185.75" y2="291.70" stroke="#444" stroke-width="0.5"/>
<circle cx="184.45" cy="269.48" r="1.15" fill="#111"/>
<circle cx="184.95" cy="276.27" r="1.15" fill="#111"/>
<circle cx="184.15" cy="293.01" r="1.15" fill="#111"/>
<line x1="184.45" y1="308.70" x2="184.45" y2="310.20" stroke="#999" stroke-width="0.6"/>
<text x="187.25" y="317.20" text-anchor="end" style="font-size:6.45px;fill:#333;stroke:#333;stroke-width:0.16px;" transform="rotate(-45 187.25 317.2)">+2 GGA ins</text>
<text x="112.60" y="198.90" text-anchor="middle" style="font-size:7.4px;fill:#2a2a2a;stroke:#2a2a2a;stroke-width:0.1px;font-style:italic;">OsCDC48-T1</text>
<line x1="203.30" y1="203.30" x2="203.30" y2="308.40" stroke="#999" stroke-width="0.8"/>
<line x1="203.30" y1="308.40" x2="270.30" y2="308.40" stroke="#999" stroke-width="0.8"/>
<line x1="201.50" y1="308.40" x2="203.30" y2="308.40" stroke="#999" stroke-width="0.8"/>
<text x="200.90" y="310.40" text-anchor="end" style="font-size:5.6px;fill:#222;stroke:#222;stroke-width:0.14px;">0</text>
<line x1="201.50" y1="287.40" x2="203.30" y2="287.40" stroke="#999" stroke-width="0.8"/>
<text x="200.90" y="289.40" text-anchor="end" style="font-size:5.6px;fill:#222;stroke:#222;stroke-width:0.14px;">2</text>
<line x1="201.50" y1="266.40" x2="203.30" y2="266.40" stroke="#999" stroke-width="0.8"/>
<text x="200.90" y="268.40" text-anchor="end" style="font-size:5.6px;fill:#222;stroke:#222;stroke-width:0.14px;">4</text>
<line x1="201.50" y1="245.40" x2="203.30" y2="245.40" stroke="#999" stroke-width="0.8"/>
<text x="200.90" y="247.40" text-anchor="end" style="font-size:5.6px;fill:#222;stroke:#222;stroke-width:0.14px;">6</text>
<line x1="201.50" y1="224.40" x2="203.30" y2="224.40" stroke="#999" stroke-width="0.8"/>
<text x="200.90" y="226.40" text-anchor="end" style="font-size:5.6px;fill:#222;stroke:#222;stroke-width:0.14px;">8</text>
<line x1="201.50" y1="203.40" x2="203.30" y2="203.40" stroke="#999" stroke-width="0.8"/>
<text x="200.90" y="205.40" text-anchor="end" style="font-size:5.6px;fill:#222;stroke:#222;stroke-width:0.14px;">10</text>
<rect x="206.30" y="288.45" width="7.20" height="19.95" fill="#ea91be"/>
<line x1="209.90" y1="282.04" x2="209.90" y2="294.75" stroke="#444" stroke-width="0.5"/>
<line x1="208.60" y1="282.04" x2="211.20" y2="282.04" stroke="#444" stroke-width="0.5"/>
<line x1="208.60" y1="294.75" x2="211.20" y2="294.75" stroke="#444" stroke-width="0.5"/>
<circle cx="209.90" cy="283.30" r="1.15" fill="#111"/>
<circle cx="210.40" cy="286.45" r="1.15" fill="#111"/>
<circle cx="209.60" cy="294.75" r="1.15" fill="#111"/>
<line x1="209.90" y1="308.40" x2="209.90" y2="309.90" stroke="#999" stroke-width="0.6"/>
<text x="212.70" y="316.90" text-anchor="end" style="font-size:6.45px;fill:#333;stroke:#333;stroke-width:0.16px;" transform="rotate(-45 212.70000000000002 316.9)">+4 C to A</text>
<rect x="217.30" y="290.34" width="7.20" height="18.06" fill="#ea91be"/>
<line x1="220.90" y1="286.45" x2="220.90" y2="292.65" stroke="#444" stroke-width="0.5"/>
<line x1="219.60" y1="286.45" x2="222.20" y2="286.45" stroke="#444" stroke-width="0.5"/>
<line x1="219.60" y1="292.65" x2="222.20" y2="292.65" stroke="#444" stroke-width="0.5"/>
<circle cx="220.90" cy="286.45" r="1.15" fill="#111"/>
<circle cx="221.40" cy="288.97" r="1.15" fill="#111"/>
<circle cx="220.60" cy="292.65" r="1.15" fill="#111"/>
<line x1="220.90" y1="308.40" x2="220.90" y2="309.90" stroke="#999" stroke-width="0.6"/>
<text x="223.70" y="316.90" text-anchor="end" style="font-size:6.45px;fill:#333;stroke:#333;stroke-width:0.16px;" transform="rotate(-45 223.70000000000002 316.9)">+4 C to T</text>
<rect x="228.30" y="266.19" width="7.20" height="42.21" fill="#ea91be"/>
<line x1="231.90" y1="261.99" x2="231.90" y2="267.66" stroke="#444" stroke-width="0.5"/>
<line x1="230.60" y1="261.99" x2="233.20" y2="261.99" stroke="#444" stroke-width="0.5"/>
<line x1="230.60" y1="267.66" x2="233.20" y2="267.66" stroke="#444" stroke-width="0.5"/>
<circle cx="231.90" cy="262.62" r="1.15" fill="#111"/>
<circle cx="232.40" cy="266.71" r="1.15" fill="#111"/>
<circle cx="231.60" cy="267.66" r="1.15" fill="#111"/>
<line x1="231.90" y1="308.40" x2="231.90" y2="309.90" stroke="#999" stroke-width="0.6"/>
<text x="234.70" y="316.90" text-anchor="end" style="font-size:6.45px;fill:#333;stroke:#333;stroke-width:0.16px;" transform="rotate(-45 234.70000000000002 316.9)">+5 G to T</text>
<rect x="239.30" y="278.47" width="7.20" height="29.93" fill="#ea91be"/>
<line x1="242.90" y1="267.76" x2="242.90" y2="288.97" stroke="#444" stroke-width="0.5"/>
<line x1="241.60" y1="267.76" x2="244.20" y2="267.76" stroke="#444" stroke-width="0.5"/>
<line x1="241.60" y1="288.97" x2="244.20" y2="288.97" stroke="#444" stroke-width="0.5"/>
<circle cx="242.90" cy="268.50" r="1.15" fill="#111"/>
<circle cx="243.40" cy="282.78" r="1.15" fill="#111"/>
<circle cx="242.60" cy="285.30" r="1.15" fill="#111"/>
<line x1="242.90" y1="308.40" x2="242.90" y2="309.90" stroke="#999" stroke-width="0.6"/>
<text x="245.70" y="316.90" text-anchor="end" style="font-size:6.45px;fill:#333;stroke:#333;stroke-width:0.16px;" transform="rotate(-45 245.70000000000002 316.9)">+5 G to A</text>
<rect x="250.30" y="224.61" width="7.20" height="83.79" fill="#ea91be"/>
<line x1="253.90" y1="207.18" x2="253.90" y2="242.25" stroke="#444" stroke-width="0.5"/>
<line x1="252.60" y1="207.18" x2="255.20" y2="207.18" stroke="#444" stroke-width="0.5"/>
<line x1="252.60" y1="242.25" x2="255.20" y2="242.25" stroke="#444" stroke-width="0.5"/>
<circle cx="253.90" cy="213.48" r="1.15" fill="#111"/>
<circle cx="254.40" cy="216.10" r="1.15" fill="#111"/>
<circle cx="253.60" cy="243.72" r="1.15" fill="#111"/>
<line x1="253.90" y1="308.40" x2="253.90" y2="309.90" stroke="#999" stroke-width="0.6"/>
<text x="256.70" y="316.90" text-anchor="end" style="font-size:6.45px;fill:#333;stroke:#333;stroke-width:0.16px;" transform="rotate(-45 256.7 316.9)">+5 G to C</text>
<rect x="261.30" y="264.62" width="7.20" height="43.78" fill="#ea91be"/>
<line x1="264.90" y1="259.47" x2="264.90" y2="267.97" stroke="#444" stroke-width="0.5"/>
<line x1="263.60" y1="259.47" x2="266.20" y2="259.47" stroke="#444" stroke-width="0.5"/>
<line x1="263.60" y1="267.97" x2="266.20" y2="267.97" stroke="#444" stroke-width="0.5"/>
<circle cx="264.90" cy="259.47" r="1.15" fill="#111"/>
<circle cx="265.40" cy="262.09" r="1.15" fill="#111"/>
<circle cx="264.60" cy="267.97" r="1.15" fill="#111"/>
<line x1="264.90" y1="308.40" x2="264.90" y2="309.90" stroke="#999" stroke-width="0.6"/>
<text x="267.70" y="316.90" text-anchor="end" style="font-size:6.45px;fill:#333;stroke:#333;stroke-width:0.16px;" transform="rotate(-45 267.7 316.9)">+4-6 CGG del</text>
<text x="238.30" y="198.90" text-anchor="middle" style="font-size:7.4px;fill:#2a2a2a;stroke:#2a2a2a;stroke-width:0.1px;font-style:italic;">OsCDC48-T2</text>
<line x1="284.50" y1="203.30" x2="284.50" y2="308.40" stroke="#999" stroke-width="0.8"/>
<line x1="284.50" y1="308.40" x2="391.40" y2="308.40" stroke="#999" stroke-width="0.8"/>
<line x1="282.70" y1="308.40" x2="284.50" y2="308.40" stroke="#999" stroke-width="0.8"/>
<text x="282.10" y="310.40" text-anchor="end" style="font-size:5.6px;fill:#222;stroke:#222;stroke-width:0.14px;">0</text>
<line x1="282.70" y1="287.40" x2="284.50" y2="287.40" stroke="#999" stroke-width="0.8"/>
<text x="282.10" y="289.40" text-anchor="end" style="font-size:5.6px;fill:#222;stroke:#222;stroke-width:0.14px;">2</text>
<line x1="282.70" y1="266.40" x2="284.50" y2="266.40" stroke="#999" stroke-width="0.8"/>
<text x="282.10" y="268.40" text-anchor="end" style="font-size:5.6px;fill:#222;stroke:#222;stroke-width:0.14px;">4</text>
<line x1="282.70" y1="245.40" x2="284.50" y2="245.40" stroke="#999" stroke-width="0.8"/>
<text x="282.10" y="247.40" text-anchor="end" style="font-size:5.6px;fill:#222;stroke:#222;stroke-width:0.14px;">6</text>
<line x1="282.70" y1="224.40" x2="284.50" y2="224.40" stroke="#999" stroke-width="0.8"/>
<text x="282.10" y="226.40" text-anchor="end" style="font-size:5.6px;fill:#222;stroke:#222;stroke-width:0.14px;">8</text>
<line x1="282.70" y1="203.40" x2="284.50" y2="203.40" stroke="#999" stroke-width="0.8"/>
<text x="282.10" y="205.40" text-anchor="end" style="font-size:5.6px;fill:#222;stroke:#222;stroke-width:0.14px;">10</text>
<rect x="286.90" y="236.68" width="7.80" height="71.72" fill="#ea91be"/>
<line x1="290.80" y1="228.07" x2="290.80" y2="242.25" stroke="#444" stroke-width="0.5"/>
<line x1="289.50" y1="228.07" x2="292.10" y2="228.07" stroke="#444" stroke-width="0.5"/>
<line x1="289.50" y1="242.25" x2="292.10" y2="242.25" stroke="#444" stroke-width="0.5"/>
<circle cx="290.80" cy="228.81" r="1.15" fill="#111"/>
<circle cx="291.30" cy="238.36" r="1.15" fill="#111"/>
<circle cx="290.50" cy="242.25" r="1.15" fill="#111"/>
<line x1="290.80" y1="308.40" x2="290.80" y2="309.90" stroke="#999" stroke-width="0.6"/>
<text x="293.60" y="316.90" text-anchor="end" style="font-size:6.45px;fill:#333;stroke:#333;stroke-width:0.16px;" transform="rotate(-45 293.6 316.9)">+2 A to G</text>
<rect x="298.85" y="293.17" width="7.80" height="15.23" fill="#ea91be"/>
<line x1="302.75" y1="290.02" x2="302.75" y2="294.44" stroke="#444" stroke-width="0.5"/>
<line x1="301.45" y1="290.02" x2="304.05" y2="290.02" stroke="#444" stroke-width="0.5"/>
<line x1="301.45" y1="294.44" x2="304.05" y2="294.44" stroke="#444" stroke-width="0.5"/>
<circle cx="302.75" cy="290.55" r="1.15" fill="#111"/>
<circle cx="303.25" cy="293.80" r="1.15" fill="#111"/>
<circle cx="302.45" cy="294.44" r="1.15" fill="#111"/>
<line x1="302.75" y1="308.40" x2="302.75" y2="309.90" stroke="#999" stroke-width="0.6"/>
<text x="305.55" y="316.90" text-anchor="end" style="font-size:6.45px;fill:#333;stroke:#333;stroke-width:0.16px;" transform="rotate(-45 305.55 316.9)">+2 A to T</text>
<rect x="310.80" y="301.05" width="7.80" height="7.35" fill="#ea91be"/>
<line x1="314.70" y1="299.47" x2="314.70" y2="302.31" stroke="#444" stroke-width="0.5"/>
<line x1="313.40" y1="299.47" x2="316.00" y2="299.47" stroke="#444" stroke-width="0.5"/>
<line x1="313.40" y1="302.31" x2="316.00" y2="302.31" stroke="#444" stroke-width="0.5"/>
<circle cx="314.70" cy="299.47" r="1.15" fill="#111"/>
<circle cx="315.20" cy="301.05" r="1.15" fill="#111"/>
<circle cx="314.40" cy="302.31" r="1.15" fill="#111"/>
<line x1="314.70" y1="308.40" x2="314.70" y2="309.90" stroke="#999" stroke-width="0.6"/>
<text x="317.50" y="316.90" text-anchor="end" style="font-size:6.45px;fill:#333;stroke:#333;stroke-width:0.16px;" transform="rotate(-45 317.5 316.9)">+2 A to C</text>
<rect x="322.75" y="293.17" width="7.80" height="15.23" fill="#ea91be"/>
<line x1="326.65" y1="288.97" x2="326.65" y2="298.63" stroke="#444" stroke-width="0.5"/>
<line x1="325.35" y1="288.97" x2="327.95" y2="288.97" stroke="#444" stroke-width="0.5"/>
<line x1="325.35" y1="298.63" x2="327.95" y2="298.63" stroke="#444" stroke-width="0.5"/>
<circle cx="326.65" cy="289.60" r="1.15" fill="#111"/>
<circle cx="327.15" cy="294.44" r="1.15" fill="#111"/>
<circle cx="326.35" cy="298.63" r="1.15" fill="#111"/>
<line x1="326.65" y1="308.40" x2="326.65" y2="309.90" stroke="#999" stroke-width="0.6"/>
<text x="329.45" y="316.90" text-anchor="end" style="font-size:6.45px;fill:#333;stroke:#333;stroke-width:0.16px;" transform="rotate(-45 329.45 316.9)">+3 G to T</text>
<rect x="334.70" y="297.27" width="7.80" height="11.13" fill="#ea91be"/>
<line x1="338.60" y1="295.59" x2="338.60" y2="298.11" stroke="#444" stroke-width="0.5"/>
<line x1="337.30" y1="295.59" x2="339.90" y2="295.59" stroke="#444" stroke-width="0.5"/>
<line x1="337.30" y1="298.11" x2="339.90" y2="298.11" stroke="#444" stroke-width="0.5"/>
<circle cx="338.60" cy="295.59" r="1.15" fill="#111"/>
<circle cx="339.10" cy="297.16" r="1.15" fill="#111"/>
<circle cx="338.30" cy="298.11" r="1.15" fill="#111"/>
<line x1="338.60" y1="308.40" x2="338.60" y2="309.90" stroke="#999" stroke-width="0.6"/>
<text x="341.40" y="316.90" text-anchor="end" style="font-size:6.45px;fill:#333;stroke:#333;stroke-width:0.16px;" transform="rotate(-45 341.40000000000003 316.9)">+3 G to A</text>
<rect x="346.65" y="285.19" width="7.80" height="23.20" fill="#ea91be"/>
<line x1="350.55" y1="278.89" x2="350.55" y2="289.71" stroke="#444" stroke-width="0.5"/>
<line x1="349.25" y1="278.89" x2="351.85" y2="278.89" stroke="#444" stroke-width="0.5"/>
<line x1="349.25" y1="289.71" x2="351.85" y2="289.71" stroke="#444" stroke-width="0.5"/>
<circle cx="350.55" cy="279.63" r="1.15" fill="#111"/>
<circle cx="351.05" cy="285.93" r="1.15" fill="#111"/>
<circle cx="350.25" cy="289.71" r="1.15" fill="#111"/>
<line x1="350.55" y1="308.40" x2="350.55" y2="309.90" stroke="#999" stroke-width="0.6"/>
<text x="353.35" y="316.90" text-anchor="end" style="font-size:6.45px;fill:#333;stroke:#333;stroke-width:0.16px;" transform="rotate(-45 353.35 316.9)">+4 T to A</text>
<rect x="358.60" y="251.91" width="7.80" height="56.49" fill="#ea91be"/>
<line x1="362.50" y1="241.41" x2="362.50" y2="259.05" stroke="#444" stroke-width="0.5"/>
<line x1="361.20" y1="241.41" x2="363.80" y2="241.41" stroke="#444" stroke-width="0.5"/>
<line x1="361.20" y1="259.05" x2="363.80" y2="259.05" stroke="#444" stroke-width="0.5"/>
<circle cx="362.50" cy="242.25" r="1.15" fill="#111"/>
<circle cx="363.00" cy="254.85" r="1.15" fill="#111"/>
<circle cx="362.20" cy="259.05" r="1.15" fill="#111"/>
<line x1="362.50" y1="308.40" x2="362.50" y2="309.90" stroke="#999" stroke-width="0.6"/>
<text x="365.30" y="316.90" text-anchor="end" style="font-size:6.45px;fill:#333;stroke:#333;stroke-width:0.16px;" transform="rotate(-45 365.3 316.9)">+4 T to C</text>
<rect x="370.55" y="280.26" width="7.80" height="28.14" fill="#ea91be"/>
<line x1="374.45" y1="273.75" x2="374.45" y2="287.40" stroke="#444" stroke-width="0.5"/>
<line x1="373.15" y1="273.75" x2="375.75" y2="273.75" stroke="#444" stroke-width="0.5"/>
<line x1="373.15" y1="287.40" x2="375.75" y2="287.40" stroke="#444" stroke-width="0.5"/>
<circle cx="374.45" cy="274.80" r="1.15" fill="#111"/>
<circle cx="374.95" cy="277.95" r="1.15" fill="#111"/>
<circle cx="374.15" cy="287.40" r="1.15" fill="#111"/>
<line x1="374.45" y1="308.40" x2="374.45" y2="309.90" stroke="#999" stroke-width="0.6"/>
<text x="377.25" y="316.90" text-anchor="end" style="font-size:6.45px;fill:#333;stroke:#333;stroke-width:0.16px;" transform="rotate(-45 377.25 316.9)">+4 T to G</text>
<rect x="382.50" y="302.73" width="7.80" height="5.67" fill="#ea91be"/>
<line x1="386.40" y1="298.53" x2="386.40" y2="308.08" stroke="#444" stroke-width="0.5"/>
<line x1="385.10" y1="298.53" x2="387.70" y2="298.53" stroke="#444" stroke-width="0.5"/>
<line x1="385.10" y1="308.08" x2="387.70" y2="308.08" stroke="#444" stroke-width="0.5"/>
<circle cx="386.40" cy="299.16" r="1.15" fill="#111"/>
<circle cx="386.90" cy="301.05" r="1.15" fill="#111"/>
<circle cx="386.10" cy="308.08" r="1.15" fill="#111"/>
<line x1="386.40" y1="308.40" x2="386.40" y2="309.90" stroke="#999" stroke-width="0.6"/>
<text x="389.20" y="316.90" text-anchor="end" style="font-size:6.45px;fill:#333;stroke:#333;stroke-width:0.16px;" transform="rotate(-45 389.2 316.9)">+2-3 AG to CA</text>
<text x="339.40" y="198.90" text-anchor="middle" style="font-size:7.4px;fill:#2a2a2a;stroke:#2a2a2a;stroke-width:0.1px;font-style:italic;">OsALS-T2</text>
<line x1="404.50" y1="203.30" x2="404.50" y2="308.50" stroke="#999" stroke-width="0.8"/>
<line x1="404.50" y1="308.50" x2="552.00" y2="308.50" stroke="#999" stroke-width="0.8"/>
<line x1="402.70" y1="308.50" x2="404.50" y2="308.50" stroke="#999" stroke-width="0.8"/>
<text x="402.10" y="310.50" text-anchor="end" style="font-size:5.6px;fill:#222;stroke:#222;stroke-width:0.14px;">0</text>
<line x1="402.70" y1="282.40" x2="404.50" y2="282.40" stroke="#999" stroke-width="0.8"/>
<text x="402.10" y="284.40" text-anchor="end" style="font-size:5.6px;fill:#222;stroke:#222;stroke-width:0.14px;">1</text>
<line x1="402.70" y1="256.30" x2="404.50" y2="256.30" stroke="#999" stroke-width="0.8"/>
<text x="402.10" y="258.30" text-anchor="end" style="font-size:5.6px;fill:#222;stroke:#222;stroke-width:0.14px;">2</text>
<line x1="402.70" y1="230.20" x2="404.50" y2="230.20" stroke="#999" stroke-width="0.8"/>
<text x="402.10" y="232.20" text-anchor="end" style="font-size:5.6px;fill:#222;stroke:#222;stroke-width:0.14px;">3</text>
<line x1="402.70" y1="204.10" x2="404.50" y2="204.10" stroke="#999" stroke-width="0.8"/>
<text x="402.10" y="206.10" text-anchor="end" style="font-size:5.6px;fill:#222;stroke:#222;stroke-width:0.14px;">4</text>
<rect x="406.60" y="287.88" width="8.20" height="20.62" fill="#ea91be"/>
<line x1="410.70" y1="281.62" x2="410.70" y2="295.45" stroke="#444" stroke-width="0.5"/>
<line x1="409.40" y1="281.62" x2="412.00" y2="281.62" stroke="#444" stroke-width="0.5"/>
<line x1="409.40" y1="295.45" x2="412.00" y2="295.45" stroke="#444" stroke-width="0.5"/>
<circle cx="410.70" cy="282.40" r="1.15" fill="#111"/>
<circle cx="411.20" cy="286.05" r="1.15" fill="#111"/>
<circle cx="410.40" cy="295.45" r="1.15" fill="#111"/>
<line x1="410.70" y1="308.50" x2="410.70" y2="310.00" stroke="#999" stroke-width="0.6"/>
<text x="413.50" y="315.80" text-anchor="end" style="font-size:6.45px;fill:#333;stroke:#333;stroke-width:0.16px;" transform="rotate(-45 413.5 315.8)">+2 A to T</text>
<rect x="419.01" y="289.71" width="8.20" height="18.79" fill="#ea91be"/>
<line x1="423.11" y1="287.62" x2="423.11" y2="289.19" stroke="#444" stroke-width="0.5"/>
<line x1="421.81" y1="287.62" x2="424.41" y2="287.62" stroke="#444" stroke-width="0.5"/>
<line x1="421.81" y1="289.19" x2="424.41" y2="289.19" stroke="#444" stroke-width="0.5"/>
<circle cx="423.11" cy="288.14" r="1.15" fill="#111"/>
<circle cx="423.61" cy="288.66" r="1.15" fill="#111"/>
<circle cx="422.81" cy="289.19" r="1.15" fill="#111"/>
<line x1="423.11" y1="308.50" x2="423.11" y2="310.00" stroke="#999" stroke-width="0.6"/>
<text x="425.91" y="315.80" text-anchor="end" style="font-size:6.45px;fill:#333;stroke:#333;stroke-width:0.16px;" transform="rotate(-45 425.91 315.8)">+2 A to C</text>
<rect x="431.42" y="287.88" width="8.20" height="20.62" fill="#ea91be"/>
<line x1="435.52" y1="279.53" x2="435.52" y2="295.45" stroke="#444" stroke-width="0.5"/>
<line x1="434.22" y1="279.53" x2="436.82" y2="279.53" stroke="#444" stroke-width="0.5"/>
<line x1="434.22" y1="295.45" x2="436.82" y2="295.45" stroke="#444" stroke-width="0.5"/>
<circle cx="435.52" cy="280.31" r="1.15" fill="#111"/>
<circle cx="436.02" cy="289.19" r="1.15" fill="#111"/>
<circle cx="435.22" cy="295.45" r="1.15" fill="#111"/>
<line x1="435.52" y1="308.50" x2="435.52" y2="310.00" stroke="#999" stroke-width="0.6"/>
<text x="438.32" y="315.80" text-anchor="end" style="font-size:6.45px;fill:#333;stroke:#333;stroke-width:0.16px;" transform="rotate(-45 438.32 315.8)">+2 A to G</text>
<rect x="443.83" y="282.66" width="8.20" height="25.84" fill="#ea91be"/>
<line x1="447.93" y1="273.00" x2="447.93" y2="292.32" stroke="#444" stroke-width="0.5"/>
<line x1="446.63" y1="273.00" x2="449.23" y2="273.00" stroke="#444" stroke-width="0.5"/>
<line x1="446.63" y1="292.32" x2="449.23" y2="292.32" stroke="#444" stroke-width="0.5"/>
<circle cx="447.93" cy="273.79" r="1.15" fill="#111"/>
<circle cx="448.43" cy="283.44" r="1.15" fill="#111"/>
<circle cx="447.63" cy="292.32" r="1.15" fill="#111"/>
<line x1="447.93" y1="308.50" x2="447.93" y2="310.00" stroke="#999" stroke-width="0.6"/>
<text x="450.73" y="315.80" text-anchor="end" style="font-size:6.45px;fill:#333;stroke:#333;stroke-width:0.16px;" transform="rotate(-45 450.73 315.8)">+3 C to A</text>
<rect x="456.24" y="287.36" width="8.20" height="21.14" fill="#ea91be"/>
<line x1="460.34" y1="280.31" x2="460.34" y2="292.32" stroke="#444" stroke-width="0.5"/>
<line x1="459.04" y1="280.31" x2="461.64" y2="280.31" stroke="#444" stroke-width="0.5"/>
<line x1="459.04" y1="292.32" x2="461.64" y2="292.32" stroke="#444" stroke-width="0.5"/>
<circle cx="460.34" cy="281.10" r="1.15" fill="#111"/>
<circle cx="460.84" cy="288.40" r="1.15" fill="#111"/>
<circle cx="460.04" cy="292.32" r="1.15" fill="#111"/>
<line x1="460.34" y1="308.50" x2="460.34" y2="310.00" stroke="#999" stroke-width="0.6"/>
<text x="463.14" y="315.80" text-anchor="end" style="font-size:6.45px;fill:#333;stroke:#333;stroke-width:0.16px;" transform="rotate(-45 463.14 315.8)">+3 C to T</text>
<rect x="468.65" y="278.75" width="8.20" height="29.75" fill="#ea91be"/>
<line x1="472.75" y1="267.52" x2="472.75" y2="287.10" stroke="#444" stroke-width="0.5"/>
<line x1="471.45" y1="267.52" x2="474.05" y2="267.52" stroke="#444" stroke-width="0.5"/>
<line x1="471.45" y1="287.10" x2="474.05" y2="287.10" stroke="#444" stroke-width="0.5"/>
<circle cx="472.75" cy="267.78" r="1.15" fill="#111"/>
<circle cx="473.25" cy="282.40" r="1.15" fill="#111"/>
<circle cx="472.45" cy="287.10" r="1.15" fill="#111"/>
<line x1="472.75" y1="308.50" x2="472.75" y2="310.00" stroke="#999" stroke-width="0.6"/>
<text x="475.55" y="315.80" text-anchor="end" style="font-size:6.45px;fill:#333;stroke:#333;stroke-width:0.16px;" transform="rotate(-45 475.55 315.8)">+3 C to G</text>
<rect x="481.06" y="281.88" width="8.20" height="26.62" fill="#ea91be"/>
<line x1="485.16" y1="280.83" x2="485.16" y2="282.92" stroke="#444" stroke-width="0.5"/>
<line x1="483.86" y1="280.83" x2="486.46" y2="280.83" stroke="#444" stroke-width="0.5"/>
<line x1="483.86" y1="282.92" x2="486.46" y2="282.92" stroke="#444" stroke-width="0.5"/>
<circle cx="485.16" cy="281.10" r="1.15" fill="#111"/>
<circle cx="485.66" cy="281.88" r="1.15" fill="#111"/>
<circle cx="484.86" cy="282.92" r="1.15" fill="#111"/>
<line x1="485.16" y1="308.50" x2="485.16" y2="310.00" stroke="#999" stroke-width="0.6"/>
<text x="487.96" y="315.80" text-anchor="end" style="font-size:6.45px;fill:#333;stroke:#333;stroke-width:0.16px;" transform="rotate(-45 487.96 315.8)">+5 G to A</text>
<rect x="493.47" y="248.73" width="8.20" height="59.77" fill="#ea91be"/>
<line x1="497.57" y1="245.60" x2="497.57" y2="249.78" stroke="#444" stroke-width="0.5"/>
<line x1="496.27" y1="245.60" x2="498.87" y2="245.60" stroke="#444" stroke-width="0.5"/>
<line x1="496.27" y1="249.78" x2="498.87" y2="249.78" stroke="#444" stroke-width="0.5"/>
<circle cx="497.57" cy="246.38" r="1.15" fill="#111"/>
<circle cx="498.07" cy="248.99" r="1.15" fill="#111"/>
<circle cx="497.27" cy="249.78" r="1.15" fill="#111"/>
<line x1="497.57" y1="308.50" x2="497.57" y2="310.00" stroke="#999" stroke-width="0.6"/>
<text x="500.37" y="315.80" text-anchor="end" style="font-size:6.45px;fill:#333;stroke:#333;stroke-width:0.16px;" transform="rotate(-45 500.37 315.8)">+5 G to T</text>
<rect x="505.88" y="258.13" width="8.20" height="50.37" fill="#ea91be"/>
<line x1="509.98" y1="256.30" x2="509.98" y2="261.52" stroke="#444" stroke-width="0.5"/>
<line x1="508.68" y1="256.30" x2="511.28" y2="256.30" stroke="#444" stroke-width="0.5"/>
<line x1="508.68" y1="261.52" x2="511.28" y2="261.52" stroke="#444" stroke-width="0.5"/>
<circle cx="509.98" cy="256.82" r="1.15" fill="#111"/>
<circle cx="510.48" cy="257.61" r="1.15" fill="#111"/>
<circle cx="509.68" cy="261.52" r="1.15" fill="#111"/>
<line x1="509.98" y1="308.50" x2="509.98" y2="310.00" stroke="#999" stroke-width="0.6"/>
<text x="512.78" y="315.80" text-anchor="end" style="font-size:6.45px;fill:#333;stroke:#333;stroke-width:0.16px;" transform="rotate(-45 512.78 315.8)">+5 G to C</text>
<rect x="518.29" y="294.67" width="8.20" height="13.83" fill="#ea91be"/>
<line x1="522.39" y1="291.27" x2="522.39" y2="297.54" stroke="#444" stroke-width="0.5"/>
<line x1="521.09" y1="291.27" x2="523.69" y2="291.27" stroke="#444" stroke-width="0.5"/>
<line x1="521.09" y1="297.54" x2="523.69" y2="297.54" stroke="#444" stroke-width="0.5"/>
<circle cx="522.39" cy="292.32" r="1.15" fill="#111"/>
<circle cx="522.89" cy="294.67" r="1.15" fill="#111"/>
<circle cx="522.09" cy="297.54" r="1.15" fill="#111"/>
<line x1="522.39" y1="308.50" x2="522.39" y2="310.00" stroke="#999" stroke-width="0.6"/>
<text x="525.19" y="315.80" text-anchor="end" style="font-size:6.45px;fill:#333;stroke:#333;stroke-width:0.16px;" transform="rotate(-45 525.1899999999999 315.8)">+7 T to C</text>
<rect x="530.70" y="289.97" width="8.20" height="18.53" fill="#ea91be"/>
<line x1="534.80" y1="280.31" x2="534.80" y2="295.45" stroke="#444" stroke-width="0.5"/>
<line x1="533.50" y1="280.31" x2="536.10" y2="280.31" stroke="#444" stroke-width="0.5"/>
<line x1="533.50" y1="295.45" x2="536.10" y2="295.45" stroke="#444" stroke-width="0.5"/>
<circle cx="534.80" cy="281.10" r="1.15" fill="#111"/>
<circle cx="535.30" cy="292.84" r="1.15" fill="#111"/>
<circle cx="534.50" cy="295.45" r="1.15" fill="#111"/>
<line x1="534.80" y1="308.50" x2="534.80" y2="310.00" stroke="#999" stroke-width="0.6"/>
<text x="537.60" y="315.80" text-anchor="end" style="font-size:6.45px;fill:#333;stroke:#333;stroke-width:0.16px;" transform="rotate(-45 537.5999999999999 315.8)">+7 T to A</text>
<rect x="543.11" y="237.51" width="8.20" height="70.99" fill="#ea91be"/>
<line x1="547.21" y1="229.68" x2="547.21" y2="245.60" stroke="#444" stroke-width="0.5"/>
<line x1="545.91" y1="229.68" x2="548.51" y2="229.68" stroke="#444" stroke-width="0.5"/>
<line x1="545.91" y1="245.60" x2="548.51" y2="245.60" stroke="#444" stroke-width="0.5"/>
<circle cx="547.21" cy="230.46" r="1.15" fill="#111"/>
<circle cx="547.71" cy="236.20" r="1.15" fill="#111"/>
<circle cx="546.91" cy="245.60" r="1.15" fill="#111"/>
<line x1="547.21" y1="308.50" x2="547.21" y2="310.00" stroke="#999" stroke-width="0.6"/>
<text x="550.01" y="315.80" text-anchor="end" style="font-size:6.45px;fill:#333;stroke:#333;stroke-width:0.16px;" transform="rotate(-45 550.01 315.8)">+7 T to G</text>
<text x="479.00" y="198.90" text-anchor="middle" style="font-size:7.4px;fill:#2a2a2a;stroke:#2a2a2a;stroke-width:0.1px;font-style:italic;">OsGAPDH</text>
<text x="12.60" y="255.60" text-anchor="middle" style="font-size:6.25px;fill:#333;stroke:#333;stroke-width:0.16px;" transform="rotate(-90 12.6 255.6)">% of sequencing</text>
<text x="19.80" y="255.60" text-anchor="middle" style="font-size:6.25px;fill:#333;stroke:#333;stroke-width:0.16px;" transform="rotate(-90 19.8 255.6)">reads with desired edits</text>
</svg>
</body></html>
